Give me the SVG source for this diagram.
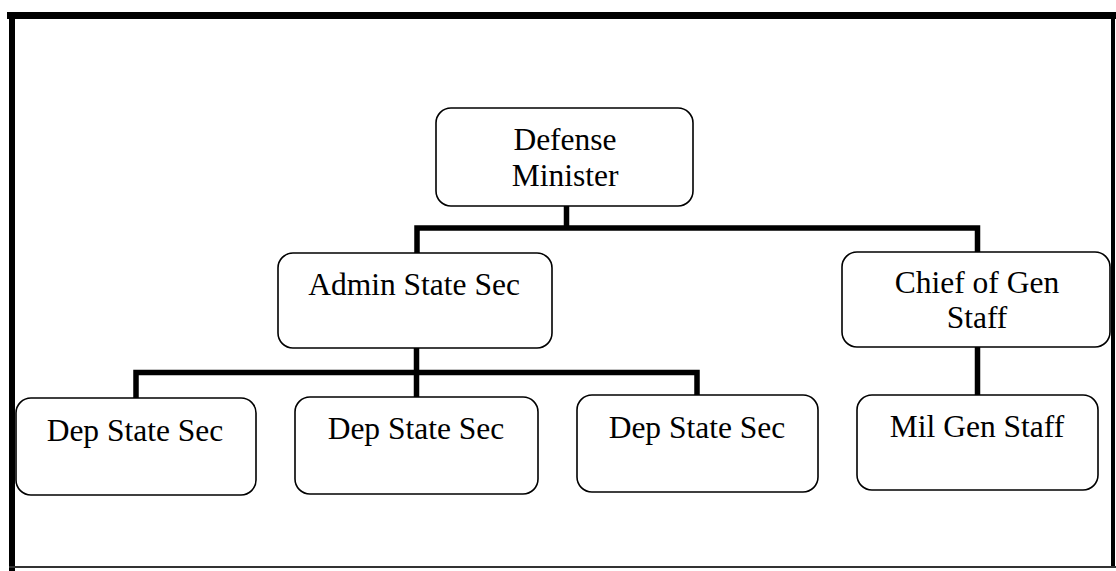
<svg xmlns="http://www.w3.org/2000/svg" width="1116" height="571" viewBox="0 0 1116 571">
<style>
.box{fill:#fff;stroke:#000;stroke-width:1.6}
.t{font-family:"Liberation Serif","Times New Roman",serif;font-size:31.5px;fill:#000;text-anchor:middle}
.c{stroke:#000;stroke-width:5.5;fill:none;stroke-linecap:square}
</style>
<rect width="1116" height="571" fill="#fff"/>
<g id="frame">
<rect x="7" y="12" width="1109" height="7" fill="#000"/>
<rect x="9" y="12" width="6" height="559" fill="#000"/>
<rect x="1111" y="12" width="4" height="556" fill="#000"/>
<rect x="9" y="566" width="1107" height="2" fill="#333"/>
</g>
<g id="connectors">
<path class="c" d="M566.5 206 V228 M417 228 H977.5 M417 228 V253 M977.5 228 V252"/>
<path class="c" d="M416.5 348 V397 M136 372.5 H697 M136 372.5 V398 M697 372.5 V395"/>
<path class="c" d="M977.5 347 V395"/>
</g>
<g id="defense-minister">
<rect class="box" x="436" y="108" width="257" height="98" rx="15"/>
<text class="t" x="565" y="150">Defense</text>
<text class="t" x="565" y="186">Minister</text>
</g>
<g id="admin-state-sec">
<rect class="box" x="278" y="253" width="274" height="95" rx="15"/>
<text class="t" x="414" y="295">Admin State Sec</text>
</g>
<g id="chief-of-gen-staff">
<rect class="box" x="842" y="252" width="268" height="95" rx="15"/>
<text class="t" x="977" y="293">Chief of Gen</text>
<text class="t" x="977" y="328">Staff</text>
</g>
<g id="dep-state-sec-1">
<rect class="box" x="16" y="398" width="240" height="97" rx="15"/>
<text class="t" x="135" y="441">Dep State Sec</text>
</g>
<g id="dep-state-sec-2">
<rect class="box" x="295" y="397" width="243" height="97" rx="15"/>
<text class="t" x="416" y="439">Dep State Sec</text>
</g>
<g id="dep-state-sec-3">
<rect class="box" x="577" y="395" width="241" height="97" rx="15"/>
<text class="t" x="697" y="438">Dep State Sec</text>
</g>
<g id="mil-gen-staff">
<rect class="box" x="857" y="395" width="241" height="95" rx="15"/>
<text class="t" x="977" y="437">Mil Gen Staff</text>
</g>
</svg>
